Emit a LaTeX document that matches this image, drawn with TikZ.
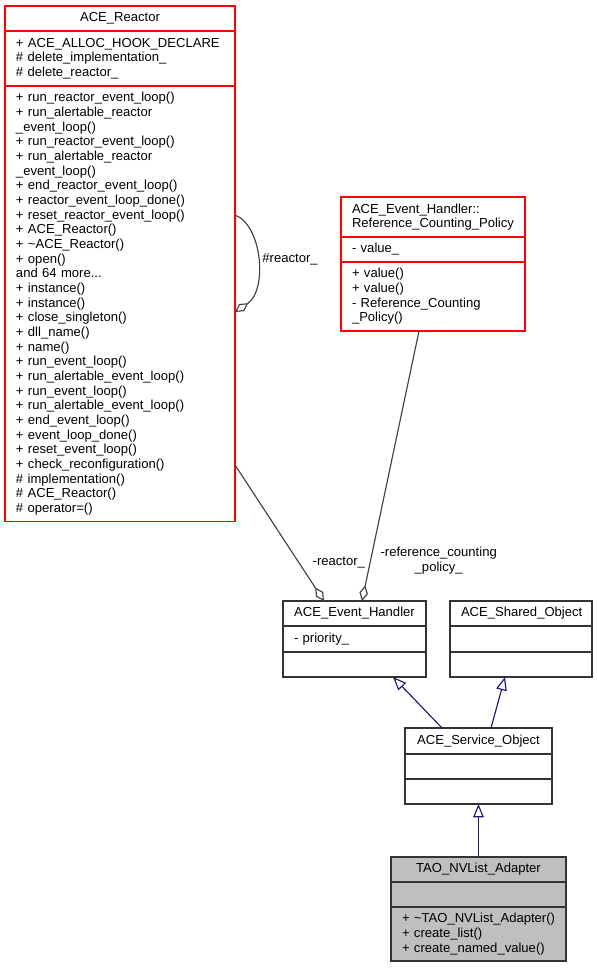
\documentclass[tikz,border=0pt]{standalone}
\usepackage{fontspec}
\setmainfont{Liberation Sans}
\usepackage{tikz}
\usetikzlibrary{arrows.meta,positioning}
\usepackage{xcolor}
\definecolor{dxred}{RGB}{255,0,0}
\definecolor{dxgray}{RGB}{64,64,64}
\definecolor{dxnavy}{RGB}{25,25,112}
\definecolor{dxfill}{RGB}{191,191,191}
\tikzstyle{classpart} = [rectangle, draw=black!80, line width=0.9pt, outer sep=0pt, inner xsep=8.25pt, inner ysep=0pt, align=left, font=\fontsize{9.8}{11}\selectfont]
\tikzstyle{classhead} = [classpart, align=center, anchor=north west]
\tikzstyle{redclass} = [draw=dxred, line width=0.95pt]
\tikzstyle{current} = [fill=dxfill]
\tikzstyle{agg} = [line width=0.85pt, color=dxgray, -{Diamond[open,length=12pt,width=6.5pt]}]
\tikzstyle{inherit} = [line width=0.85pt, color=dxnavy, -{Triangle[open,length=10pt,width=8pt]}]
\tikzstyle{edgelabel} = [font=\fontsize{9.8}{11}\selectfont, inner sep=3.3pt, text=black]

\begin{document}
\begin{tikzpicture}[x=0.75pt, y=-0.75pt]
\useasboundingbox (0,0) rectangle (597,968);

% ACE_Reactor
\node[classhead, redclass, text width=156pt, minimum height=18.75pt] (reactor) at (5,6) {ACE\_Reactor};
\node[classpart, redclass, text width=156pt, minimum height=41.25pt, below=0pt of reactor] (reactor-attr) {+ ACE\_ALLOC\_HOOK\_DECLARE\\\# delete\_implementation\_\\\# delete\_reactor\_};
\node[classpart, redclass, text width=156pt, minimum height=326.6pt, below=0pt of reactor-attr] (reactor-ops) {+ run\_reactor\_event\_loop()\\+ run\_alertable\_reactor\\\_event\_loop()\\+ run\_reactor\_event\_loop()\\+ run\_alertable\_reactor\\\_event\_loop()\\+ end\_reactor\_event\_loop()\\+ reactor\_event\_loop\_done()\\+ reset\_reactor\_event\_loop()\\+ ACE\_Reactor()\\+ \textasciitilde ACE\_Reactor()\\+ open()\\and 64 more...\\+ instance()\\+ instance()\\+ close\_singleton()\\+ dll\_name()\\+ name()\\+ run\_event\_loop()\\+ run\_alertable\_event\_loop()\\+ run\_event\_loop()\\+ run\_alertable\_event\_loop()\\+ end\_event\_loop()\\+ event\_loop\_done()\\+ reset\_event\_loop()\\+ check\_reconfiguration()\\\# implementation()\\\# ACE\_Reactor()\\\# operator=()};

% ACE_Event_Handler::Reference_Counting_Policy
\node[classhead, redclass, align=left, text width=121.5pt, minimum height=30pt] (rcp) at (341,197) {ACE\_Event\_Handler::\\Reference\_Counting\_Policy};
\node[classpart, redclass, text width=121.5pt, minimum height=18.75pt, below=0pt of rcp] (rcp-attr) {- value\_};
\node[classpart, redclass, text width=121.5pt, minimum height=51.75pt, below=0pt of rcp-attr] (rcp-ops) {+ value()\\+ value()\\- Reference\_Counting\\\_Policy()};

% ACE_Event_Handler
\node[classhead, text width=90.75pt, minimum height=18.75pt] (eh) at (283,601) {ACE\_Event\_Handler};
\node[classpart, text width=90.75pt, minimum height=19.5pt, below=0pt of eh] (eh-attr) {- priority\_};
\node[classpart, text width=90.75pt, minimum height=18.75pt, below=0pt of eh-attr] (eh-ops) {};

% ACE_Shared_Object
\node[classhead, text width=90pt, minimum height=18.75pt] (so) at (450,601) {ACE\_Shared\_Object};
\node[classpart, text width=90pt, minimum height=19.5pt, below=0pt of so] (so-attr) {};
\node[classpart, text width=90pt, minimum height=18.75pt, below=0pt of so-attr] (so-ops) {};

% ACE_Service_Object
\node[classhead, text width=93.75pt, minimum height=19.5pt] (svc) at (405,728) {ACE\_Service\_Object};
\node[classpart, text width=93.75pt, minimum height=18.75pt, below=0pt of svc] (svc-attr) {};
\node[classpart, text width=93.75pt, minimum height=18.75pt, below=0pt of svc-attr] (svc-ops) {};

% TAO_NVList_Adapter
\node[classhead, current, text width=114.75pt, minimum height=18.75pt] (tao) at (391,857) {TAO\_NVList\_Adapter};
\node[classpart, current, text width=114.75pt, minimum height=18.75pt, below=0pt of tao] (tao-attr) {};
\node[classpart, current, text width=114.75pt, minimum height=40.5pt, below=0pt of tao-attr] (tao-ops) {+~\textasciitilde TAO\_NVList\_Adapter()\\+ create\_list()\\+ create\_named\_value()};

% Usage
\draw[agg] ([yshift=-96.75pt]reactor-ops.north east) .. controls +(27,10) and +(33,-22) .. ([yshift=-169.5pt]reactor-ops.north east) node[edgelabel, pos=0.5, anchor=west] {\#reactor\_};
\draw[agg] ([yshift=42.4pt]reactor-ops.south east) -- ([xshift=30.75pt]eh.north west) node[edgelabel, pos=0.72, anchor=west, xshift=6.5pt] {-reactor\_};
\draw[agg] ([xshift=58.5pt]rcp-ops.south west) -- ([xshift=59.25pt]eh.north west) node[edgelabel, pos=0.85, anchor=west, xshift=3.8pt, align=center] {-reference\_counting\\\_policy\_};

% Inheritance
\draw[inherit] ([xshift=27.75pt]svc.north west) -- ([xshift=82.5pt]eh-ops.south west);
\draw[inherit] ([xshift=64.5pt]svc.north west) -- ([xshift=41.25pt]so-ops.south west);
\draw[inherit] (tao.north) -- (svc-ops.south);
\end{tikzpicture}
\end{document}
